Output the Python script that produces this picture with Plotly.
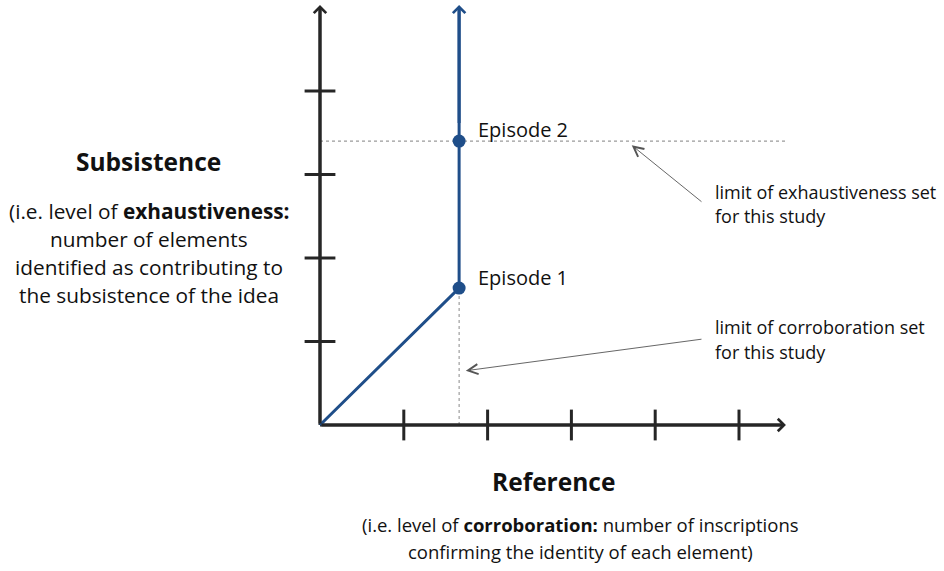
import plotly.graph_objects as go

# ---- data (in axis units) ----
episodes = ["Episode 1", "Episode 2"]
corroboration = [1.66, 1.66]        # x: level of corroboration
exhaustiveness = [1.64, 3.40]       # y: level of exhaustiveness
path_x = [0, 1.66, 1.66]
path_y = [0, 1.64, 5.03]
x_ticks = [1, 2, 3, 4, 5]
y_ticks = [1, 2, 3, 4]
x_axis_end = 5.56
y_axis_end = 5.03
limit_x_end = 5.58

W, H = 944, 571
FONT = "Open Sans"
AX = "#262626"
BLUE = "#1F4E89"
GRAY = "#555555"

def px(x):
    return x / W

def py(y):
    return 1 - y / H

fig = go.Figure()

# dotted limit lines
fig.add_trace(go.Scatter(x=[0, limit_x_end], y=[exhaustiveness[1]] * 2, mode="lines",
                         line=dict(color="#808080", width=1, dash="dot"), hoverinfo="skip"))
fig.add_trace(go.Scatter(x=[corroboration[0]] * 2, y=[0, exhaustiveness[0]], mode="lines",
                         line=dict(color="#8a8a8a", width=1, dash="dot"), hoverinfo="skip"))

# axes
fig.add_trace(go.Scatter(x=[0, x_axis_end - 0.05], y=[0, 0], mode="lines",
                         line=dict(color=AX, width=3), hoverinfo="skip"))
fig.add_trace(go.Scatter(x=[0, 0], y=[0, y_axis_end - 0.05], mode="lines",
                         line=dict(color=AX, width=3), hoverinfo="skip"))
# ticks
fig.add_trace(go.Scatter(x=x_ticks, y=[0] * len(x_ticks), mode="markers",
                         marker=dict(symbol="line-ns", size=22, line=dict(color=AX, width=3)),
                         hoverinfo="skip"))
fig.add_trace(go.Scatter(x=[0] * len(y_ticks), y=y_ticks, mode="markers",
                         marker=dict(symbol="line-ew", size=22, line=dict(color=AX, width=3)),
                         hoverinfo="skip"))

# episode path
fig.add_trace(go.Scatter(x=path_x, y=path_y[:-1] + [path_y[-1] - 0.05],
                         mode="lines", line=dict(color=BLUE, width=3), hoverinfo="skip"))
fig.add_trace(go.Scatter(x=corroboration, y=exhaustiveness, mode="markers",
                         marker=dict(color=BLUE, size=13), hoverinfo="skip"))

annotations = []
# arrow heads
for (x0, y0, x1, y1, col) in [
    (0, 0, x_axis_end, 0, AX),
    (0, 0, 0, y_axis_end, AX),
    (path_x[-1], 3.6, path_x[-1], path_y[-1], BLUE),
]:
    annotations.append(dict(x=x1, y=y1, ax=x0, ay=y0, xref="x", yref="y", axref="x", ayref="y",
                            text="", showarrow=True, arrowhead=4, arrowsize=0.8,
                            arrowwidth=3, arrowcolor=col))

# pointer arrows
annotations.append(dict(x=3.72, y=3.35, ax=4.57, ay=2.66, xref="x", yref="y", axref="x", ayref="y",
                        text="", showarrow=True, arrowhead=5, arrowsize=2.2, arrowwidth=0.9,
                        arrowcolor=GRAY))
annotations.append(dict(x=1.74, y=0.65, ax=4.57, ay=1.03, xref="x", yref="y", axref="x", ayref="y",
                        text="", showarrow=True, arrowhead=5, arrowsize=2.2, arrowwidth=0.9,
                        arrowcolor=GRAY))

def label(text, x, y, size, xanchor="left", color="#111111"):
    annotations.append(dict(text=text, x=px(x), y=py(y), xref="paper", yref="paper",
                            xanchor=xanchor, yanchor="middle", showarrow=False,
                            font=dict(family=FONT, size=size, color=color)))

label(episodes[1], 476, 129, 20)
label(episodes[0], 476, 277, 20)
label("limit of exhaustiveness set", 713, 192, 18)
label("for this study", 713, 216, 18)
label("limit of corroboration set", 713, 327, 18)
label("for this study", 713, 352, 18)

label("<b>Subsistence</b>", 148, 162, 24.5, "center")
for t, yy in [("(i.e. level of <b>exhaustiveness:</b>", 211),
              ("number of elements", 239),
              ("identified as contributing to", 267),
              ("the subsistence of the idea", 295)]:
    label(t, 149, yy, 20.8, "center")

label("<b>Reference</b>", 553, 481, 24.5, "center")
label("(i.e. level of <b>corroboration:</b> number of inscriptions", 580, 524, 18.5, "center")
label("confirming the identity of each element)", 580, 551, 18.5, "center")

fig.update_layout(
    width=W, height=H, autosize=False,
    margin=dict(l=0, r=0, t=0, b=0),
    paper_bgcolor="white", plot_bgcolor="white",
    showlegend=False,
    xaxis=dict(range=[-320 / 83.8, (W - 320) / 83.8], visible=False, fixedrange=True),
    yaxis=dict(range=[-(H - 425) / 83.5, 425 / 83.5], visible=False, fixedrange=True),
    annotations=annotations,
)

fig.write_html("out.html", config={"displayModeBar": False},
               post_script="document.body.style.margin='0';")
